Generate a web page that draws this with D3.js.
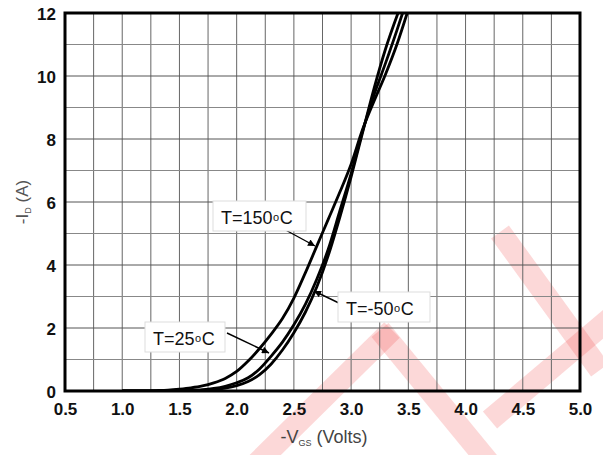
<!DOCTYPE html>
<html><head><meta charset="utf-8">
<script src="https://cdn.jsdelivr.net/npm/d3@7"></script>
<style>body{margin:0;background:#fff}svg{display:block}</style>
</head><body>
<svg id="c" width="603" height="455"></svg>
<script>
const xTicks = [0.5,1.0,1.5,2.0,2.5,3.0,3.5,4.0,4.5,5.0];
const yTicks = [0,2,4,6,8,10,12];
const vgs150 = [1.0,1.2,1.3,1.4,1.5,1.6,1.7,1.8,1.9,2.0,2.1,2.2,2.3,2.4,2.5,2.6,2.7,2.8,2.9,3.0,3.1,3.2,3.3,3.4,3.49];
const id150  = [0,0.005,0.015,0.03,0.06,0.1,0.16,0.26,0.4,0.62,0.95,1.35,1.8,2.3,2.95,3.75,4.6,5.45,6.3,7.2,8.3,9.2,10.05,11.0,12];
const vgs25 = [1.0,1.2,1.4,1.6,1.7,1.8,1.9,2.0,2.1,2.2,2.3,2.4,2.5,2.6,2.7,2.8,2.9,3.0,3.1,3.2,3.3,3.4,3.45];
const id25  = [0,0,0.005,0.02,0.04,0.08,0.15,0.26,0.42,0.7,1.1,1.55,2.1,2.75,3.55,4.5,5.7,6.9,8.25,9.4,10.4,11.45,12];
const vgsM50 = [1.0,1.4,1.6,1.7,1.8,1.9,2.0,2.1,2.2,2.3,2.4,2.5,2.6,2.7,2.8,2.9,3.0,3.1,3.2,3.3,3.41];
const idM50  = [0,0,0.005,0.015,0.04,0.09,0.17,0.3,0.52,0.85,1.3,1.85,2.5,3.3,4.3,5.5,6.8,8.2,9.6,10.85,12];

const svg = d3.select("#c");
const L=65,T=13,R=580,B=391;
const x = d3.scaleLinear().domain([0.5,5.0]).range([L,R]);
const y = d3.scaleLinear().domain([0,12]).range([B,T]);

// watermark
const wm = svg.append("g").attr("fill","none").attr("stroke","#f03c3c").attr("stroke-opacity",0.2).attr("stroke-width",22).attr("stroke-linecap","butt");
[[[250,470],[392,330]],[[380,330],[495,470]],[[490,420],[620,310]],[[500,232],[600,370]]].forEach(p=>{
  wm.append("path").attr("d",d3.line()(p));
});

// grid
const g = svg.append("g");
d3.range(0.5,5.0001,0.25).forEach(v=>{
  g.append("line").attr("x1",x(v)).attr("x2",x(v)).attr("y1",T).attr("y2",B).attr("stroke","#666").attr("stroke-width",1);
});
d3.range(0,12.001,1).forEach(v=>{
  g.append("line").attr("x1",L).attr("x2",R).attr("y1",y(v)).attr("y2",y(v)).attr("stroke",v%2?"#888":"#555").attr("stroke-width",1);
});

// curves
svg.append("clipPath").attr("id","clip").append("rect").attr("x",L).attr("y",T).attr("width",R-L).attr("height",B-T);
const line = d3.line().x(d=>x(d[0])).y(d=>y(d[1])).curve(d3.curveMonotoneX);
const cg = svg.append("g").attr("clip-path","url(#clip)");
[[vgs150,id150],[vgs25,id25],[vgsM50,idM50]].forEach(([vs,is])=>{
  cg.append("path").attr("d",line(vs.map((v,i)=>[v,is[i]]))).attr("fill","none").attr("stroke","#000").attr("stroke-width",2.8);
});

// frame
svg.append("rect").attr("x",L).attr("y",T).attr("width",R-L).attr("height",B-T).attr("fill","none").attr("stroke","#000").attr("stroke-width",3);

// axes
const ff = "Liberation Sans, Arial, sans-serif";
const xa = svg.append("g").attr("transform",`translate(0,${B})`).call(d3.axisBottom(x).tickValues(xTicks).tickSize(0).tickPadding(0).tickFormat(d3.format(".1f")));
xa.select(".domain").remove();
xa.selectAll("text").attr("dy",null).attr("y",24).attr("font-family",ff).attr("font-weight","bold").attr("font-size",17).attr("fill","#111");
const ya = svg.append("g").attr("transform",`translate(${L},0)`).call(d3.axisLeft(y).tickValues(yTicks).tickSize(0).tickPadding(9));
ya.select(".domain").remove();
ya.selectAll("text").attr("dy","0.36em").attr("font-family",ff).attr("font-weight","bold").attr("font-size",17).attr("fill","#111");

// axis titles
const yl = svg.append("text").attr("transform","translate(28,202) rotate(-90)").attr("text-anchor","middle").attr("font-family",ff).attr("font-size",17).attr("fill","#555");
yl.append("tspan").text("-I");
yl.append("tspan").attr("font-size",9).attr("dy",3).text("D");
yl.append("tspan").attr("dy",-3).text(" (A)");
const xl = svg.append("text").attr("x",324).attr("y",443).attr("text-anchor","middle").attr("font-family",ff).attr("font-size",18).attr("fill","#444");
xl.append("tspan").text("-V");
xl.append("tspan").attr("font-size",9).attr("dy",3).text("GS");
xl.append("tspan").attr("dy",-3).text(" (Volts)");

// annotations
svg.append("defs").append("marker").attr("id","ah").attr("viewBox","0 0 10 10").attr("refX",10).attr("refY",5)
  .attr("markerWidth",9).attr("markerHeight",7).attr("orient","auto").attr("markerUnits","userSpaceOnUse")
  .append("path").attr("d","M0,0L10,5L0,10z").attr("fill","#000");
const notes = [
  {t:"T=150", box:[213,201,93,30], tx:221, ty:224, a:[[280,227],[315,246]]},
  {t:"T=-50", box:[338,292,92,30], tx:346, ty:315, a:[[343,305],[314,291]]},
  {t:"T=25", box:[145,322,80,30], tx:153, ty:345, a:[[227,333],[269,353]]}
];
notes.forEach(n=>{
  svg.append("path").attr("d",d3.line()(n.a)).attr("stroke","#000").attr("stroke-width",1.4).attr("marker-end","url(#ah)");
  svg.append("rect").attr("x",n.box[0]).attr("y",n.box[1]).attr("width",n.box[2]).attr("height",n.box[3]).attr("fill","#fff").attr("stroke","#ddd").attr("stroke-width",1);
  const t = svg.append("text").attr("x",n.tx).attr("y",n.ty).attr("font-family",ff).attr("font-size",18).attr("fill","#111");
  t.append("tspan").text(n.t);
  t.append("tspan").attr("font-size",11).attr("dy",-3).attr("dx",0.5).text("o");
  t.append("tspan").attr("dy",3).attr("dx",0.5).text("C");
});
</script>
</body></html>
